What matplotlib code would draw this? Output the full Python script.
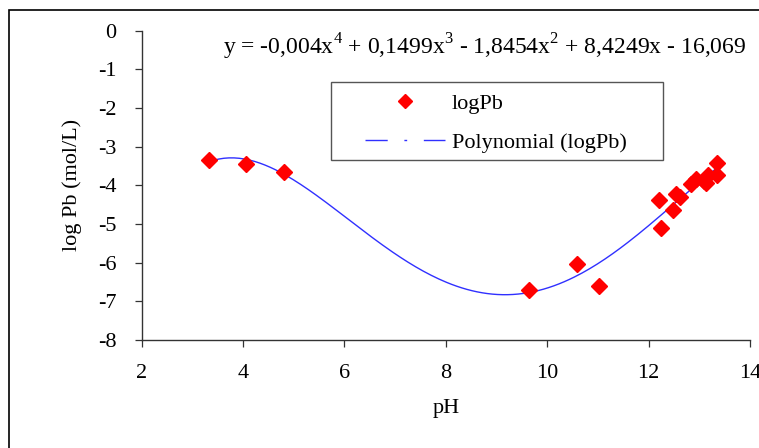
"""log Pb against pH with a 4th-order polynomial trendline (Excel-style chart)."""

import matplotlib.pyplot as plt
import numpy as np
from matplotlib.lines import Line2D
from matplotlib.patches import Rectangle

PH = [3.32, 4.05, 4.80, 9.64, 10.59, 11.02, 12.20, 12.24, 12.48, 12.54,
      12.62, 12.83, 12.94, 13.09, 13.13, 13.17, 13.35, 13.36]
LOG_PB = [-3.34, -3.44, -3.65, -6.70, -6.03, -6.60, -4.37, -5.11, -4.65, -4.23,
          -4.29, -3.97, -3.84, -3.90, -3.95, -3.73, -3.43, -3.73]

X_TICKS = [2, 4, 6, 8, 10, 12, 14]
Y_TICKS = [0, -1, -2, -3, -4, -5, -6, -7, -8]
EQUATION = (r"y = -0,004x$^{4}$ + 0,1499x$^{3}$ - 1,8454x$^{2}$"
            r" + 8,4249x - 16,069")

plt.rcParams["font.family"] = ["Liberation Serif", "DejaVu Serif"]
plt.rcParams["mathtext.fontset"] = "custom"
plt.rcParams["mathtext.rm"] = "Liberation Serif"
plt.rcParams["axes.unicode_minus"] = False

W, H = 759, 448
fig = plt.figure(figsize=(W / 100, H / 100), dpi=100)
ax = fig.add_axes([0.1867, 0.241, 0.8013, 0.6905])

# trendline: least-squares quartic through the points, as Excel does
coef = np.polyfit(PH, LOG_PB, 4)
xs = np.linspace(min(PH), max(PH), 200)
ax.plot(xs, np.polyval(coef, xs), color="#3030ff", linewidth=1.0, zorder=2)
ax.plot(PH, LOG_PB, linestyle="none", marker="D", markersize=8.5,
        color="#ff0000", markeredgecolor="#ff0000", zorder=3)

ax.set_xlim(2, 14)
ax.set_ylim(-8, 0)
ax.set_xticks(X_TICKS)
ax.set_yticks(Y_TICKS)
ax.tick_params(direction="out", length=5, width=0.9, labelsize=16,
               color="#333333")
ax.tick_params(axis="x", pad=12)
ax.tick_params(axis="y", pad=13)
for side in ("top", "right"):
    ax.spines[side].set_visible(False)
for side in ("left", "bottom"):
    ax.spines[side].set_color("#333333")
    ax.spines[side].set_linewidth(1.0)
ax.set_xlabel("pH", fontsize=16, labelpad=12)
ax.set_ylabel("log Pb (mol/L)", fontsize=16, labelpad=12)

# legend: frameless entries inside a hand-sized box (Excel pads it unevenly)
handles = [
    Line2D([], [], linestyle="none", marker="D", markersize=7, color="#ff0000"),
    Line2D([], [], color="#3030ff", linewidth=1.0, dashes=(16, 12, 2, 12)),
]
ax.legend(handles, ["logPb", "Polynomial (logPb)"], loc="upper left",
          bbox_to_anchor=(365 / W, 1 - 93 / H), bbox_transform=fig.transFigure,
          borderaxespad=0, borderpad=0, frameon=False, fontsize=16,
          handlelength=3.6, handletextpad=0.3, labelspacing=0.86)
fig.patches.append(Rectangle((331 / W, 1 - 160 / H), 332 / W, 78 / H,
                             transform=fig.transFigure, fill=False,
                             edgecolor="#555555", linewidth=1.0))

fig.text(485 / W, 1 - 47 / H, EQUATION, fontsize=17, ha="center", va="center")

# outer chart-area border, cut by the right and bottom image edges
fig.patches.append(Rectangle((9 / W, -0.1), 1.2, 1 - 10 / H + 0.1,
                             transform=fig.transFigure, fill=False,
                             edgecolor="black", linewidth=1.2))

fig.savefig("out.png", dpi=100)
